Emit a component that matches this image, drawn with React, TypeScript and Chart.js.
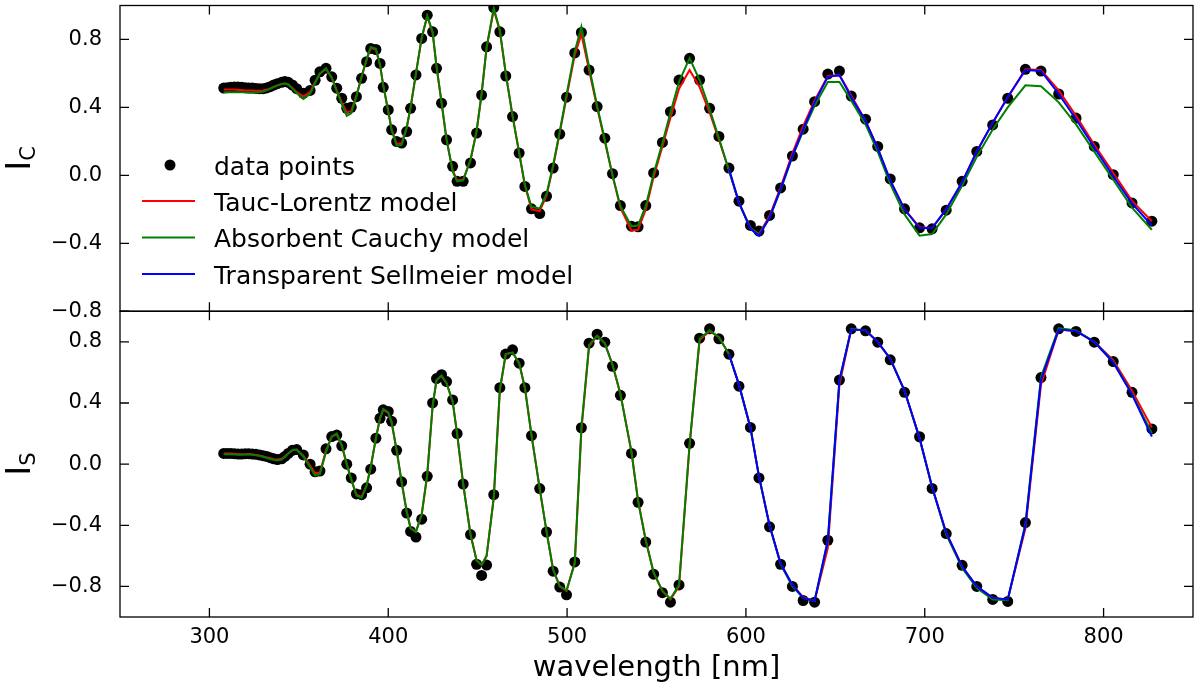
import { useEffect, useRef } from "react";
import { Chart, registerables } from "chart.js";

Chart.register(...registerables);

// ---------- data ----------
const wavelength = [
  308, 310, 312, 314, 316, 318, 320, 322, 324, 326, 328, 330, 332, 334, 336, 338, 340.4, 342.2, 344.1, 346.4, 348.8,
  352.5, 356.3, 359.1, 361.8, 365.2, 368.4, 371.2, 374, 376.8, 379.3, 382.2, 385.1, 387.9, 390.2, 393.1, 395.4, 397.2,
  400, 401.9, 404.7, 407.5, 410.3, 412.5, 415.5, 418.7, 421.8, 424.8, 427, 429.8, 432.6, 436, 438.5, 441.9, 446, 449.4,
  452.2, 455, 459, 462.4, 465.7, 469.5, 473.2, 476.4, 480.1, 484.7, 488.5, 492.2, 495.9, 499.7, 504.3, 508, 512.3,
  516.8, 521.1, 525.4, 529.8, 536, 539.7, 544, 548.4, 553.3, 557.8, 562.6, 568.5, 574.1, 579.7, 584.9, 590.5, 596.1,
  602.5, 607.3, 613.2, 619.4, 626, 632, 638.4, 645.8, 652.3, 658.9, 666.9, 673.7, 680.7, 688.7, 697.1, 704.1, 712,
  720.9, 729.1, 738, 746.4, 756.3, 765, 774.9, 784.6, 794.8, 805.4, 815.9, 827,
];

// I_C panel
const icData = [
  0.514, 0.516, 0.518, 0.52, 0.52, 0.518, 0.516, 0.514, 0.514, 0.512, 0.51, 0.51, 0.515, 0.522, 0.532, 0.54, 0.548, 0.552, 0.548, 0.532, 0.51,
  0.483, 0.5, 0.56, 0.61, 0.63, 0.58, 0.513, 0.454, 0.395, 0.401, 0.463, 0.571, 0.669, 0.747, 0.741, 0.659, 0.518,
  0.385, 0.268, 0.199, 0.19, 0.258, 0.395, 0.591, 0.806, 0.943, 0.845, 0.63, 0.425, 0.209, 0.053, -0.035, -0.035, 0.073, 0.249,
  0.473, 0.757, 0.988, 0.845, 0.585, 0.346, 0.131, -0.065, -0.197, -0.225, -0.123, 0.043, 0.243, 0.46, 0.721, 0.841, 0.62,
  0.405, 0.219, 0.01, -0.178, -0.299, -0.303, -0.178, 0.014, 0.194, 0.375, 0.561, 0.689, 0.561, 0.395, 0.229, 0.043, -0.152,
  -0.295, -0.328, -0.236, -0.074, 0.114, 0.272, 0.434, 0.596, 0.614, 0.467, 0.331, 0.17, -0.021, -0.197, -0.309, -0.315, -0.205,
  -0.035, 0.141, 0.297, 0.454, 0.624, 0.614, 0.479, 0.337, 0.17, 0.004, -0.162, -0.27,
];
const icTaucLorentz = [
  0.505, 0.505, 0.505, 0.505, 0.503, 0.503, 0.5, 0.5, 0.5, 0.498, 0.498, 0.5, 0.505, 0.512, 0.522, 0.53, 0.538, 0.54, 0.535, 0.515, 0.49,
  0.465, 0.49, 0.55, 0.6, 0.625, 0.575, 0.5, 0.43, 0.37, 0.38, 0.47, 0.58, 0.68, 0.75, 0.74, 0.65, 0.53,
  0.38, 0.27, 0.185, 0.19, 0.28, 0.4, 0.6, 0.81, 0.935, 0.84, 0.64, 0.43, 0.21, 0.03, -0.03, -0.025, 0.09, 0.26,
  0.48, 0.75, 0.975, 0.85, 0.6, 0.35, 0.13, -0.06, -0.2, -0.21, -0.12, 0.05, 0.25, 0.46, 0.71, 0.83, 0.62,
  0.4, 0.2, 0.0, -0.19, -0.325, -0.32, -0.2, -0.01, 0.17, 0.34, 0.51, 0.62, 0.52, 0.37, 0.21, 0.03, -0.16,
  -0.31, -0.345, -0.24, -0.07, 0.13, 0.29, 0.44, 0.585, 0.59, 0.47, 0.32, 0.16, -0.03, -0.2, -0.305, -0.31, -0.2,
  -0.04, 0.14, 0.31, 0.46, 0.625, 0.62, 0.5, 0.35, 0.18, 0.015, -0.15, -0.27,
];
const icCauchy = [
  0.49, 0.49, 0.49, 0.49, 0.49, 0.49, 0.488, 0.488, 0.488, 0.488, 0.49, 0.492, 0.5, 0.51, 0.52, 0.53, 0.538, 0.54, 0.535, 0.512, 0.485,
  0.45, 0.48, 0.545, 0.6, 0.63, 0.575, 0.495, 0.42, 0.35, 0.365, 0.465, 0.58, 0.685, 0.755, 0.745, 0.65, 0.53,
  0.375, 0.265, 0.175, 0.18, 0.28, 0.4, 0.6, 0.81, 0.94, 0.845, 0.64, 0.43, 0.21, 0.025, -0.035, -0.03, 0.09, 0.26,
  0.48, 0.755, 0.985, 0.855, 0.6, 0.35, 0.135, -0.055, -0.185, -0.195, -0.11, 0.06, 0.26, 0.475, 0.73, 0.875, 0.64,
  0.41, 0.21, 0.0, -0.18, -0.3, -0.295, -0.18, 0.01, 0.19, 0.37, 0.55, 0.69, 0.56, 0.39, 0.22, 0.03, -0.16,
  -0.31, -0.35, -0.25, -0.085, 0.11, 0.26, 0.41, 0.55, 0.55, 0.44, 0.3, 0.14, -0.05, -0.23, -0.355, -0.345, -0.23,
  -0.06, 0.11, 0.27, 0.4, 0.53, 0.525, 0.43, 0.3, 0.14, -0.025, -0.19, -0.32,
];
// Sellmeier model only covers 590.5 nm onwards
const sellmeierWavelength = [
  590.5, 596.1, 602.5, 607.3, 613.2, 619.4, 626, 632, 638.4, 645.8, 652.3, 658.9, 666.9, 673.7, 680.7, 688.7, 697.1,
  704.1, 712, 720.9, 729.1, 738, 746.4, 756.3, 765, 774.9, 784.6, 794.8, 805.4, 815.9, 827,
];
const icSellmeier = [
  0.04, -0.16, -0.315, -0.355, -0.25, -0.08, 0.115, 0.27, 0.43, 0.58, 0.59, 0.46, 0.32, 0.16, -0.03, -0.2, -0.31,
  -0.31, -0.2, -0.04, 0.14, 0.31, 0.46, 0.62, 0.615, 0.48, 0.33, 0.165, -0.005, -0.165, -0.295,
];

// I_S panel
const isData = [
  0.07, 0.07, 0.07, 0.068, 0.066, 0.066, 0.068, 0.068, 0.066, 0.064, 0.06, 0.055, 0.05, 0.042, 0.035, 0.03, 0.035, 0.05, 0.07, 0.09, 0.095,
  0.06, 0.0, -0.05, -0.045, 0.1, 0.18, 0.19, 0.12, 0.0, -0.09, -0.195, -0.2, -0.155, -0.033, 0.17, 0.3, 0.355,
  0.345, 0.28, 0.09, -0.116, -0.32, -0.44, -0.477, -0.36, -0.08, 0.4, 0.56, 0.585, 0.54, 0.42, 0.2, -0.13, -0.461, -0.655,
  -0.728, -0.66, -0.2, 0.5, 0.72, 0.748, 0.66, 0.5, 0.186, -0.16, -0.444, -0.7, -0.804, -0.855, -0.64, 0.238, 0.791,
  0.85, 0.798, 0.64, 0.45, 0.07, -0.25, -0.51, -0.72, -0.841, -0.903, -0.79, 0.136, 0.824, 0.885, 0.82, 0.719, 0.51,
  0.24, -0.09, -0.41, -0.655, -0.8, -0.892, -0.903, -0.498, 0.55, 0.885, 0.872, 0.798, 0.682, 0.47, 0.179, -0.159, -0.454,
  -0.662, -0.8, -0.885, -0.898, -0.382, 0.566, 0.885, 0.868, 0.798, 0.671, 0.47, 0.23,
];
const isTaucLorentz = [
  0.07, 0.07, 0.069, 0.068, 0.065, 0.064, 0.065, 0.066, 0.064, 0.06, 0.056, 0.05, 0.044, 0.038, 0.032, 0.03, 0.035, 0.05, 0.07, 0.09, 0.095,
  0.055, -0.01, -0.06, -0.055, 0.09, 0.18, 0.195, 0.12, 0.0, -0.1, -0.2, -0.215, -0.14, -0.02, 0.17, 0.3, 0.355,
  0.335, 0.27, 0.09, -0.12, -0.31, -0.42, -0.44, -0.33, -0.07, 0.38, 0.55, 0.575, 0.53, 0.41, 0.2, -0.13, -0.46, -0.63,
  -0.66, -0.6, -0.22, 0.48, 0.72, 0.73, 0.66, 0.5, 0.19, -0.16, -0.44, -0.69, -0.8, -0.83, -0.64, 0.22, 0.77,
  0.84, 0.79, 0.65, 0.46, 0.08, -0.24, -0.5, -0.71, -0.83, -0.885, -0.8, 0.12, 0.81, 0.87, 0.83, 0.72, 0.52,
  0.24, -0.08, -0.4, -0.65, -0.79, -0.87, -0.895, -0.55, 0.52, 0.88, 0.875, 0.8, 0.69, 0.48, 0.17, -0.15, -0.45,
  -0.67, -0.8, -0.875, -0.885, -0.42, 0.52, 0.88, 0.87, 0.8, 0.68, 0.48, 0.24,
];
const isCauchy = [
  0.065, 0.065, 0.065, 0.063, 0.062, 0.062, 0.063, 0.064, 0.062, 0.058, 0.054, 0.048, 0.042, 0.034, 0.028, 0.024, 0.03, 0.048, 0.07, 0.092, 0.095,
  0.05, -0.02, -0.075, -0.065, 0.08, 0.18, 0.2, 0.125, 0.0, -0.1, -0.205, -0.22, -0.14, -0.02, 0.17, 0.3, 0.36,
  0.34, 0.275, 0.09, -0.12, -0.31, -0.42, -0.445, -0.33, -0.07, 0.38, 0.55, 0.58, 0.53, 0.41, 0.2, -0.13, -0.46, -0.63,
  -0.66, -0.6, -0.22, 0.49, 0.72, 0.73, 0.66, 0.5, 0.19, -0.16, -0.44, -0.69, -0.8, -0.825, -0.65, 0.24, 0.78,
  0.84, 0.79, 0.65, 0.46, 0.08, -0.24, -0.5, -0.71, -0.83, -0.88, -0.79, 0.13, 0.82, 0.875, 0.83, 0.72, 0.52,
  0.24, -0.08, -0.4, -0.655, -0.8, -0.875, -0.895, -0.5, 0.55, 0.885, 0.875, 0.8, 0.69, 0.48, 0.17, -0.15, -0.46,
  -0.68, -0.81, -0.885, -0.89, -0.39, 0.57, 0.89, 0.875, 0.8, 0.67, 0.46, 0.2,
];
const isSellmeier = [
  0.72, 0.52, 0.24, -0.08, -0.4, -0.65, -0.79, -0.875, -0.895, -0.5, 0.55, 0.88, 0.875, 0.8, 0.69, 0.48, 0.17,
  -0.15, -0.45, -0.67, -0.8, -0.875, -0.885, -0.4, 0.55, 0.88, 0.87, 0.8, 0.665, 0.455, 0.18,
];

// axes / labels
const xRange = [250, 850];
const xTicks = [300, 400, 500, 600, 700, 800];
const icRange = [-0.8, 1.0];
const isRange = [-1.0, 1.0];
const yTicks = [-0.8, -0.4, 0.0, 0.4, 0.8];
const xTitle = "wavelength [nm]";
const icLabel = ["I", "C"];
const isLabel = ["I", "S"];
const seriesNames = ["data points", "Tauc-Lorentz model", "Absorbent Cauchy model", "Transparent Sellmeier model"];
const seriesColors = ["#000000", "#ff0000", "#008000", "#0000ff"];

const FONT = '"DejaVu Sans", "Liberation Sans", sans-serif';

const pts = (xs: number[], ys: number[]) => xs.map((x, i) => ({ x, y: ys[i] }));
const fmtTick = (v: number | string) => {
  const n = Number(v);
  const s = Math.abs(n).toFixed(1);
  return n < -1e-9 ? "\u2212" + s : s;
};

const framePlugin = {
  id: "mplFrame",
  afterDatasetsDraw(chart: any) {
    const { ctx } = chart;
    const x = chart.scales.x;
    const panels = [chart.scales.yTop, chart.scales.yBot];
    ctx.save();
    ctx.strokeStyle = "#000";
    ctx.lineWidth = 1.3;
    for (const p of panels) {
      ctx.strokeRect(x.left, p.top, x.right - x.left, p.bottom - p.top);
    }
    const TL = 9;
    ctx.beginPath();
    for (const t of x.ticks) {
      const px = x.getPixelForValue(t.value);
      for (const p of panels) {
        ctx.moveTo(px, p.top);
        ctx.lineTo(px, p.top + TL);
        ctx.moveTo(px, p.bottom);
        ctx.lineTo(px, p.bottom - TL);
      }
    }
    for (const p of panels) {
      for (const t of p.ticks) {
        const py = p.getPixelForValue(t.value);
        ctx.moveTo(x.left, py);
        ctx.lineTo(x.left + TL, py);
        ctx.moveTo(x.right, py);
        ctx.lineTo(x.right - TL, py);
      }
    }
    ctx.stroke();
    ctx.restore();
  },
  afterDraw(chart: any) {
    const { ctx } = chart;
    const x = chart.scales.x;
    const yTop = chart.scales.yTop;
    const yBot = chart.scales.yBot;
    ctx.save();
    ctx.fillStyle = "#000";

    const drawYLabel = (lab: string[], cy: number) => {
      ctx.save();
      ctx.translate(30, cy);
      ctx.rotate(-Math.PI / 2);
      ctx.textAlign = "left";
      ctx.textBaseline = "alphabetic";
      ctx.font = `34px ${FONT}`;
      const w1 = ctx.measureText(lab[0]).width;
      ctx.font = `21px ${FONT}`;
      const w2 = ctx.measureText(lab[1]).width;
      const start = -(w1 + w2) / 2;
      ctx.font = `34px ${FONT}`;
      ctx.fillText(lab[0], start, 0);
      ctx.font = `21px ${FONT}`;
      ctx.fillText(lab[1], start + w1, 5);
      ctx.restore();
    };
    drawYLabel(icLabel, (yTop.top + yTop.bottom) / 2);
    drawYLabel(isLabel, (yBot.top + yBot.bottom) / 2);

    ctx.font = `29px ${FONT}`;
    ctx.textAlign = "center";
    ctx.textBaseline = "middle";
    ctx.fillText(xTitle, (x.left + x.right) / 2, 668);

    const rows = [165, 201, 237.5, 274];
    ctx.font = `25px ${FONT}`;
    ctx.textAlign = "left";
    ctx.textBaseline = "alphabetic";
    rows.forEach((ry, i) => {
      if (i === 0) {
        ctx.beginPath();
        ctx.fillStyle = seriesColors[0];
        ctx.arc(170, ry, 5.5, 0, Math.PI * 2);
        ctx.fill();
      } else {
        ctx.beginPath();
        ctx.strokeStyle = seriesColors[i];
        ctx.lineWidth = 2;
        ctx.moveTo(142, ry);
        ctx.lineTo(195, ry);
        ctx.stroke();
      }
      ctx.fillStyle = "#000";
      ctx.fillText(seriesNames[i], 214, ry + 9.5);
    });
    ctx.restore();
  },
};

function yScale(range: number[]) {
  return {
    type: "linear" as const,
    position: "left" as const,
    stack: "panels",
    stackWeight: 1,
    min: range[0],
    max: range[1],
    grid: { display: false, drawTicks: false },
    border: { display: false },
    ticks: {
      autoSkip: false,
      padding: 18,
      color: "#000",
      font: { family: FONT, size: 21 },
      callback: (v: number | string) => fmtTick(v),
    },
    afterBuildTicks: (s: any) => {
      s.ticks = yTicks.map((v) => ({ value: v }));
    },
    afterFit: (s: any) => {
      s.width = 120;
      s.paddingTop = 0;
      s.paddingBottom = 0;
    },
  };
}

export default function App() {
  const canvasRef = useRef<HTMLCanvasElement | null>(null);

  useEffect(() => {
    const canvas = canvasRef.current;
    if (!canvas) return;

    const scatterDs = (label: string, data: any[], axis: string) => ({
      label,
      data,
      yAxisID: axis,
      showLine: false,
      pointRadius: 5.5,
      pointHoverRadius: 5.5,
      pointBackgroundColor: seriesColors[0],
      pointBorderWidth: 0,
      borderColor: seriesColors[0],
      order: 4,
    });
    const lineDs = (label: string, data: any[], axis: string, idx: number) => ({
      label,
      data,
      yAxisID: axis,
      borderColor: seriesColors[idx],
      borderWidth: 2,
      pointRadius: 0,
      tension: 0,
      fill: false,
      order: 4 - idx,
    });

    const chart = new Chart(canvas, {
      type: "line",
      data: {
        datasets: [
          scatterDs(seriesNames[0], pts(wavelength, icData), "yTop"),
          lineDs(seriesNames[1], pts(wavelength, icTaucLorentz), "yTop", 1),
          lineDs(seriesNames[2], pts(wavelength, icCauchy), "yTop", 2),
          lineDs(seriesNames[3], pts(sellmeierWavelength, icSellmeier), "yTop", 3),
          scatterDs(seriesNames[0], pts(wavelength, isData), "yBot"),
          lineDs(seriesNames[1], pts(wavelength, isTaucLorentz), "yBot", 1),
          lineDs(seriesNames[2], pts(wavelength, isCauchy), "yBot", 2),
          lineDs(seriesNames[3], pts(sellmeierWavelength, isSellmeier), "yBot", 3),
        ] as any,
      },
      options: {
        responsive: false,
        animation: false,
        events: [],
        layout: { padding: { top: 5, right: 7, bottom: 0, left: 0 } },
        plugins: {
          legend: { display: false },
          tooltip: { enabled: false },
        },
        scales: {
          x: {
            type: "linear",
            position: "bottom",
            min: xRange[0],
            max: xRange[1],
            grid: { display: false, drawTicks: false },
            border: { display: false },
            ticks: {
              autoSkip: false,
              maxRotation: 0,
              padding: 8,
              color: "#000",
              font: { family: FONT, size: 21 },
              callback: (v: number | string) => String(v),
            },
            afterBuildTicks: (s: any) => {
              s.ticks = xTicks.map((v) => ({ value: v }));
            },
            afterFit: (s: any) => {
              s.height = 79;
              s.paddingLeft = 0;
              s.paddingRight = 0;
            },
          },
          yBot: yScale(isRange),
          yTop: yScale(icRange),
        } as any,
      },
      plugins: [framePlugin],
    });

    return () => chart.destroy();
  }, []);

  return (
    <div style={{ position: "absolute", left: 0, top: 0, width: 1200, height: 696, background: "#fff" }}>
      <canvas ref={canvasRef} width={1200} height={696} style={{ display: "block", width: 1200, height: 696 }} />
    </div>
  );
}
